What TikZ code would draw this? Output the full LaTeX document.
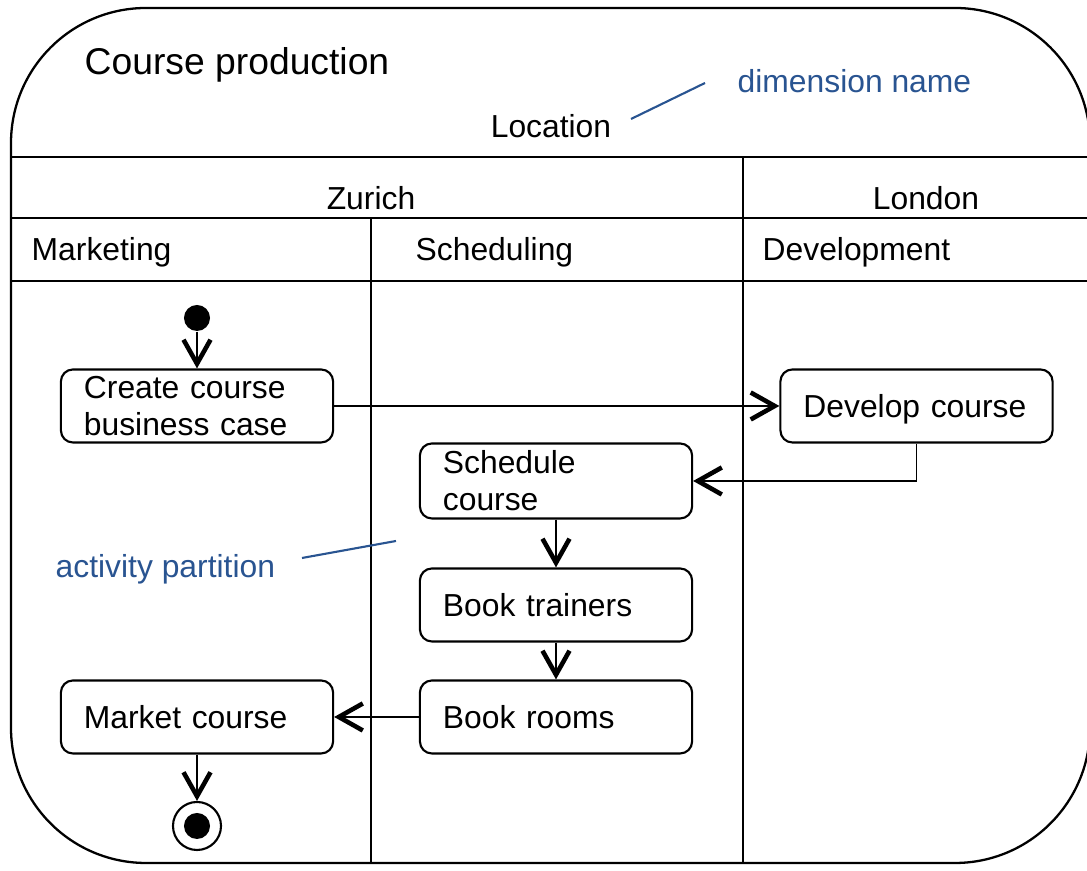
\documentclass[tikz,border=0pt]{standalone}
\usepackage{fontspec}
\setmainfont{Liberation Sans}
\usetikzlibrary{positioning,arrows.meta}
\definecolor{notecol}{RGB}{41,84,145}

\begin{document}
\begin{tikzpicture}[x=0.01cm,y=-0.01cm,
    every node/.style={font=\fontsize{9.05}{10.5}\selectfont},
    act/.style={draw,line width=0.6pt,rounded corners=0.12cm,minimum width=2.72cm,
      minimum height=0.73cm,text width=2.26cm,align=left,inner xsep=0.23cm,inner ysep=0.05cm},
    flow/.style={line width=0.55pt,-{Straight Barb[length=0.24cm,width=0.27cm,line width=1.3pt]}},
    lane/.style={line width=0.65pt},
    lbl/.style={inner sep=0,anchor=base west}]
  \useasboundingbox (0,0) rectangle (1087,871);
  \clip (0,0) rectangle (1087,871);
  % frame and partitions
  \draw[lane,rounded corners=1.35cm] (11,8) rectangle (1090,863);
  \draw[lane] (11,157) -- (1090,157);
  \draw[lane] (11,218) -- (1090,218);
  \draw[lane] (11,281) -- (1090,281);
  \draw[lane] (371,218) -- (371,863);
  \draw[lane] (743,157) -- (743,863);
  \node[lbl,font=\fontsize{10.6}{12}\selectfont] (title) at (84,75) {Course production};
  \node[lbl,anchor=base] (location) at (551,138) {Location};
  \node[lbl,anchor=base] (zurich) at (371,210) {Zurich};
  \node[lbl,anchor=base] (london) at (926,210) {London};
  \node[lbl] (marketing) at (31,261) {Marketing};
  \node[lbl] (scheduling) at (415,261) {Scheduling};
  \node[lbl] (development) at (762,261) {Development};
  % notes
  \node[lbl,text=notecol] (dimname) at (737,93) {dimension name};
  \node[lbl,text=notecol] (partname) at (55,578) {activity partition};
  \coordinate (dima) at (631,119);
  \coordinate (dimb) at (705,83);
  \coordinate (parta) at (302,558);
  \coordinate (partb) at (396,541);
  \draw[notecol,line width=0.6pt] (dima) -- (dimb);
  \draw[notecol,line width=0.6pt] (parta) -- (partb);
  % activities
  \node[circle,fill,minimum size=0.26cm,inner sep=0] (init) at (197,318) {};
  \node[act] (create) at (197,406) {Create course\\business case};
  \node[act,text depth=0pt] (develop) at (916.5,406) {Develop course};
  \node[act,minimum height=0.75cm] (schedule) at (556,481) {Schedule\\course};
  \node[act] (trainers) at (556,605) {Book trainers};
  \node[act] (rooms) at (556,717) {Book rooms};
  \node[act] (market) at (197,717) {Market course};
  \node[circle,draw,line width=0.6pt,minimum size=0.48cm,inner sep=0] (final) at (197,826) {};
  \fill (final) circle (0.13cm);
  % flows
  \draw[flow] (init) -- (create);
  \draw[flow] (create) -- (develop);
  \draw[flow] (develop) |- (schedule);
  \draw[flow] (schedule) -- (trainers);
  \draw[flow] (trainers) -- (rooms);
  \draw[flow] (rooms) -- (market);
  \draw[flow] (market) -- (final);
\end{tikzpicture}
\end{document}
